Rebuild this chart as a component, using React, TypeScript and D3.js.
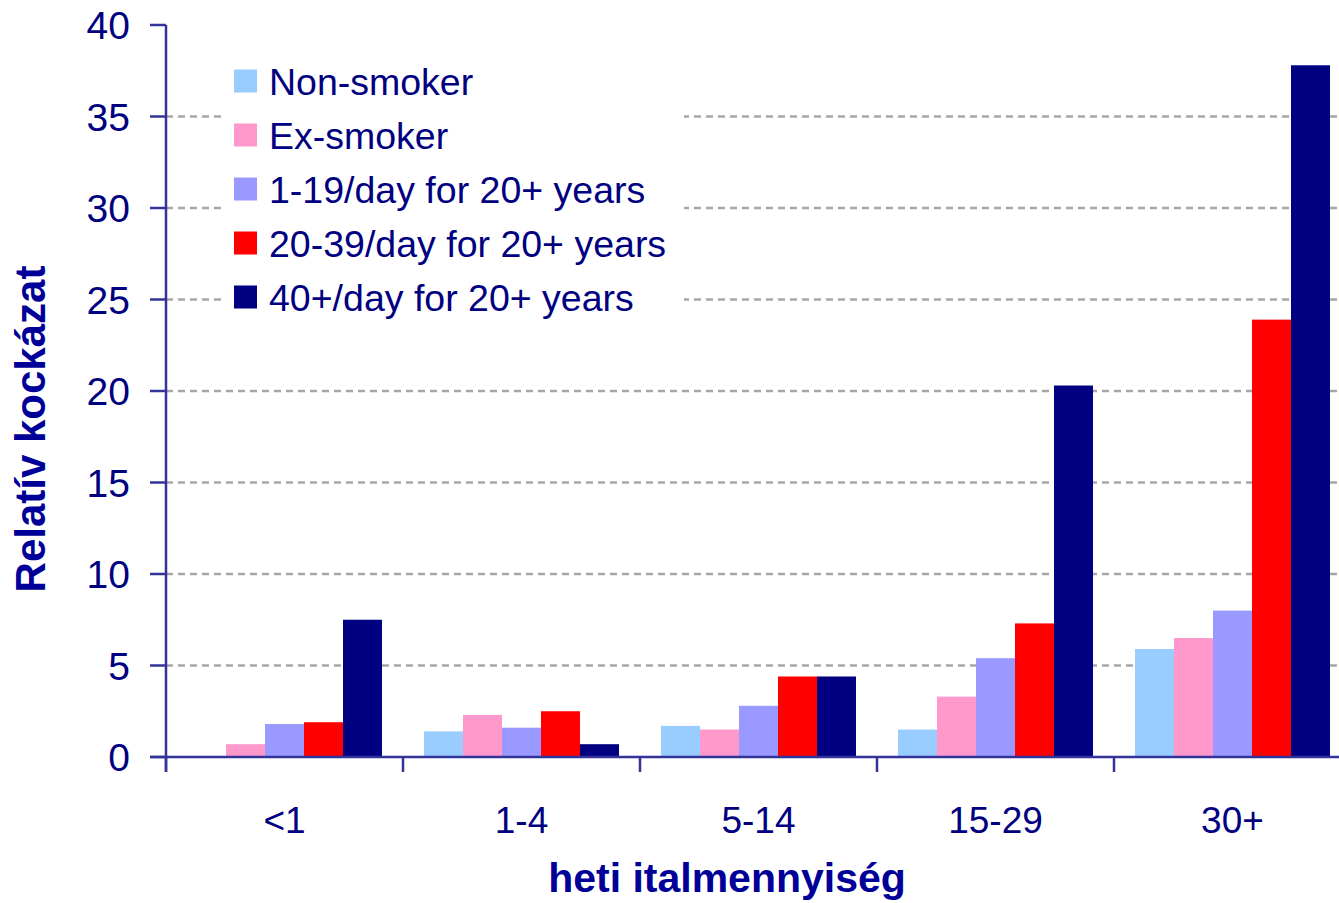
import React from 'react';
import * as d3 from 'd3';

// weekly drink categories
const categories = ['<1', '1-4', '5-14', '15-29', '30+'];
const seriesNames = [
    'Non-smoker',
    'Ex-smoker',
    '1-19/day for 20+ years',
    '20-39/day for 20+ years',
    '40+/day for 20+ years',
];
const seriesColors = ['#99CCFF', '#FF99CC', '#9999FF', '#FF0000', '#000080'];

// relative risk per category, one array per series
const nonSmoker = [0, 1.4, 1.7, 1.5, 5.9];
const exSmoker = [0.7, 2.3, 1.5, 3.3, 6.5];
const light = [1.8, 1.6, 2.8, 5.4, 8.0];
const medium = [1.9, 2.5, 4.4, 7.3, 23.9];
const heavy = [7.5, 0.7, 4.4, 20.3, 37.8];
const seriesValues = [nonSmoker, exSmoker, light, medium, heavy];

const yTicks = [0, 5, 10, 15, 20, 25, 30, 35, 40];

const W = 1339;
const H = 903;
const axisColor = '#333399';
const textColor = '#000080';
const font = 'Arial, "Liberation Sans", sans-serif';

const App = () => {
    const x0 = 166;
    const yTop = 25;
    const yBase = 757;

    const y = d3.scaleLinear().domain([0, 40]).range([yBase, yTop]);
    const xGroup = d3.scaleBand<string>()
        .domain(categories)
        .range([x0, x0 + 237 * categories.length]);
    const xSeries = d3.scaleBand<number>()
        .domain(d3.range(seriesNames.length))
        .range([21, 216]);

    return (
        <svg width={W} height={H} style={{ position: 'absolute', left: 0, top: 0, background: '#fff' }}>
            {/* gridlines, none on the top tick */}
            {yTicks.filter(t => t > 0 && t < 40).map(t => (
                <line key={'g' + t} x1={x0} x2={W} y1={y(t)} y2={y(t)}
                    stroke="#A6A6A6" strokeWidth={2.5} strokeDasharray="7,5" />
            ))}

            {/* legend box hides the gridlines behind it */}
            <rect x={222} y={50} width={462} height={275} fill="#fff" />

            {/* bars */}
            {categories.map((c, ci) => (
                <g key={c} transform={`translate(${xGroup(c)},0)`}>
                    {seriesValues.map((vals, si) => vals[ci] > 0 && (
                        <rect key={si}
                            x={xSeries(si)}
                            y={y(vals[ci])}
                            width={xSeries.bandwidth()}
                            height={y(0) - y(vals[ci])}
                            fill={seriesColors[si]} />
                    ))}
                </g>
            ))}

            {/* y axis */}
            <line x1={x0} x2={x0} y1={yTop} y2={yBase + 15} stroke={axisColor} strokeWidth={2.5} />
            {yTicks.map(t => (
                <g key={'t' + t}>
                    <line x1={x0 - 16} x2={x0} y1={y(t)} y2={y(t)} stroke={axisColor} strokeWidth={2.5} />
                    <text x={130} y={y(t)} dy="0.36em" textAnchor="end"
                        fontFamily={font} fontSize={39} fill={textColor}>{t}</text>
                </g>
            ))}

            {/* x axis */}
            <line x1={x0 - 16} x2={W} y1={yBase} y2={yBase} stroke={axisColor} strokeWidth={2.5} />
            {categories.map(c => (
                <g key={'x' + c}>
                    <line x1={xGroup(c)} x2={xGroup(c)} y1={yBase} y2={yBase + 15} stroke={axisColor} strokeWidth={2.5} />
                    <text x={(xGroup(c) as number) + xGroup.bandwidth() / 2} y={833} textAnchor="middle"
                        fontFamily={font} fontSize={37} fill={textColor}>{c}</text>
                </g>
            ))}

            {/* legend */}
            {seriesNames.map((name, i) => (
                <g key={name} transform={`translate(234,${81 + i * 54})`}>
                    <rect x={0} y={-11.5} width={23} height={23} fill={seriesColors[i]} />
                    <text x={35} y={0} dy="0.36em" fontFamily={font} fontSize={37.5} fill={textColor}>{name}</text>
                </g>
            ))}

            {/* axis titles */}
            <text x={727} y={892} textAnchor="middle" fontFamily={font} fontSize={41}
                fontWeight="bold" fill="#000099">heti italmennyiség</text>
            <text transform="translate(45,429) rotate(-90)" textAnchor="middle" fontFamily={font}
                fontSize={42} fontWeight="bold" fill="#000099">Relatív kockázat</text>
        </svg>
    );
};

export default App;
